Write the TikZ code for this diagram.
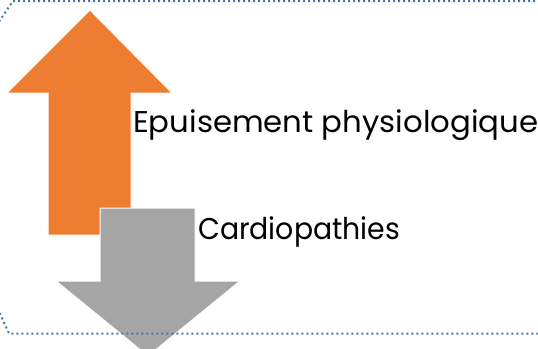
\documentclass[tikz,border=0pt]{standalone}
\usepackage{fontspec}
\usepackage{graphicx}
\setmainfont{Poppins}
\definecolor{orangeA}{HTML}{ED7D31}
\definecolor{grayA}{HTML}{A5A5A5}
\definecolor{frameblue}{HTML}{4A76A8}
\tikzset{
  bigarrow/.style={draw=white, line width=1pt, line join=miter},
  framedots/.style={draw=frameblue, line width=2pt, dash pattern=on 2pt off 3pt},
  lbl/.style={anchor=base west, inner sep=0pt, font=\fontsize{30}{36}\selectfont, text=black}
}
\begin{document}
\begin{tikzpicture}[x=1pt,y=-1pt]
\useasboundingbox (0,0) rectangle (538,348);
\clip (0,0) rectangle (538,348);
% orange up arrow
\path[bigarrow, fill=orangeA] (90,10) -- (172,93) -- (131,93) -- (131,235) -- (48,235) -- (48,93) -- (7,93) -- cycle;
% gray down arrow
\path[bigarrow, fill=grayA] (100,208) -- (195,208) -- (195,281) -- (240,281) -- (148,356) -- (56,281) -- (100,281) -- cycle;
% dotted frame
\draw[framedots] (560,1) -- (13,1) -- (-4,26) -- (-4,305) -- (9,333.5) -- (560,333.5);
% labels
\node[lbl] (epu) at (133,132.5) {\scalebox{1.025}[1]{Epuisement physiologique}};
\node[lbl] (car) at (198,239) {\scalebox{0.945}[1]{Cardiopathies}};
\end{tikzpicture}
\end{document}
